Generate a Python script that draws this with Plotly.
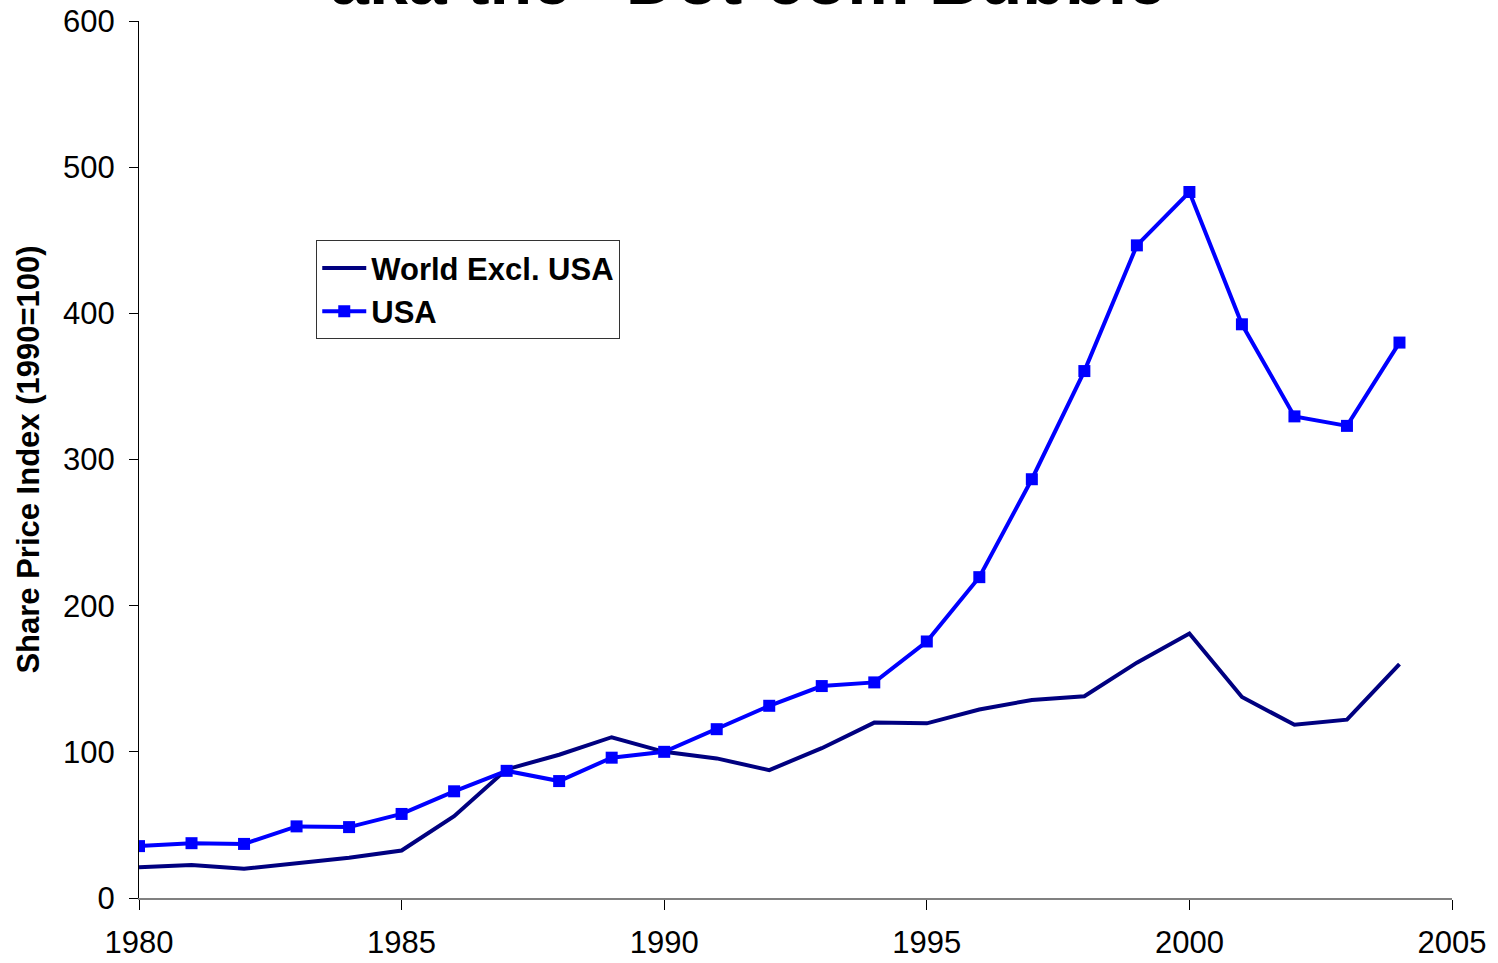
import plotly.graph_objects as go

years = list(range(1980, 2005))
world_excl_usa = [21, 22.5, 20, 24, 27.5, 32.5, 56, 88, 98, 110, 100, 95.5, 87.5, 102.5, 120, 119.5, 129, 135.5, 138, 161, 181, 137.5, 118.5, 122, 160]
usa = [35.5, 37.5, 37, 49, 48.5, 57.5, 73, 87, 80, 96, 100, 115.5, 131.5, 145, 147.5, 175.5, 219.5, 286.5, 360.5, 446.5, 483, 392.5, 329.5, 323, 380]

x_ticks = [1980, 1985, 1990, 1995, 2000, 2005]
y_ticks = [0, 100, 200, 300, 400, 500, 600]

FONT = "Liberation Sans, Arial, sans-serif"

fig = go.Figure()
fig.add_trace(go.Scatter(x=years, y=world_excl_usa, mode="lines", name="World Excl. USA",
                         line=dict(color="#000080", width=4)))
fig.add_trace(go.Scatter(x=years, y=usa, mode="lines+markers", name="USA",
                         line=dict(color="#0000FF", width=4),
                         marker=dict(symbol="square", size=12, color="#0000FF")))

fig.add_annotation(text="aka the \u201cDot-com Bubble\u201d", xref="paper", yref="paper",
                   x=0.477, y=1, xanchor="center", yanchor="bottom", yshift=0,
                   showarrow=False,
                   font=dict(family=FONT, size=70, color="black", weight="bold"))

fig.update_layout(
    width=1498, height=963,
    margin=dict(l=139, r=46, t=21, b=65, autoexpand=False),
    paper_bgcolor="white", plot_bgcolor="white",
    font=dict(family=FONT, color="black"),
    showlegend=True,
    legend=dict(x=0.135, y=0.750, xanchor="left", yanchor="top",
                bgcolor="white", bordercolor="#333333", borderwidth=1,
                font=dict(family=FONT, size=31, color="black", weight="bold"),
                itemwidth=44, tracegroupgap=0),
)
fig.update_xaxes(range=[1980, 2005], tickvals=x_ticks, ticktext=[str(v) for v in x_ticks],
                 showgrid=False, zeroline=False, showline=True, linecolor="#808080", linewidth=2,
                 ticks="outside", ticklen=10, tickcolor="#000000", tickwidth=1,
                 ticklabelstandoff=6,
                 tickfont=dict(size=31, family=FONT, color="black"))
fig.update_yaxes(range=[0, 600], tickvals=y_ticks, showgrid=False, zeroline=False,
                 showline=True, linecolor="#000000", linewidth=1,
                 ticks="outside", ticklen=9, tickcolor="#000000", tickwidth=1,
                 ticklabelstandoff=8,
                 tickfont=dict(size=31, family=FONT, color="black"),
                 title=dict(text="Share Price Index (1990=100)", standoff=14,
                            font=dict(size=31, family=FONT, color="black", weight="bold")))

fig.write_html("out.html")
